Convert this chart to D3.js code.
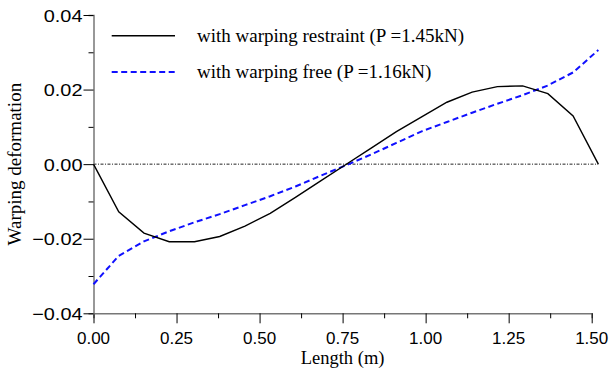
<!DOCTYPE html>
<html>
<head>
<meta charset="utf-8">
<script src="https://cdn.jsdelivr.net/npm/d3@7"></script>
<style>
  body { margin: 0; background: #fff; }
  svg { display: block; }
</style>
</head>
<body>
<svg id="chart" width="609" height="372"></svg>
<script>
// positions along the member (m), 20 equal steps
const lengths = [0, 0.076, 0.152, 0.228, 0.304, 0.38, 0.456, 0.532, 0.608, 0.684, 0.76,
                 0.836, 0.912, 0.988, 1.064, 1.14, 1.216, 1.292, 1.368, 1.444, 1.52];
const restrained = [0, -0.0128, -0.0185, -0.0208, -0.0208, -0.0194, -0.0166, -0.0132, -0.0089, -0.0045, -0.0001,
                    0.0043, 0.0087, 0.0127, 0.0166, 0.0193, 0.0208, 0.0210, 0.0189, 0.0129, 0];
const free = [-0.0322, -0.0246, -0.0207, -0.0180, -0.0156, -0.0134, -0.0110, -0.0086, -0.0060, -0.0031, -0.0003,
              0.0026, 0.0057, 0.0088, 0.0113, 0.0138, 0.0162, 0.0185, 0.0211, 0.0246, 0.0306];
const xTicks = [0, 0.25, 0.5, 0.75, 1.0, 1.25, 1.5];
const yTicks = [-0.04, -0.02, 0, 0.02, 0.04];
const legendLabels = ['with warping restraint (P =1.45kN)', 'with warping free (P =1.16kN)'];

const svg = d3.select('#chart');

const x = d3.scaleLinear().domain([0, 1.5]).range([93.5, 591.7]);
const y = d3.scaleLinear().domain([-0.04, 0.04]).range([313.3, 15]);

/// zero reference line, runs to the end of the data
svg.append('line')
  .attr('x1', x(0)).attr('x2', x(1.52))
  .attr('y1', y(0)).attr('y2', y(0))
  .attr('stroke', '#222').attr('stroke-width', 1)
  .attr('stroke-dasharray', '3,1.5,1,1.5');

/// axes
const xAxis = svg.append('g').attr('transform', `translate(0,${y(-0.04)})`);
xAxis.call(d3.axisBottom(x).tickValues(d3.range(0, 1.5001, 0.125)).tickSize(5).tickFormat(''));
xAxis.selectAll('.tick').filter(d => xTicks.some(t => Math.abs(t - d) < 1e-6))
  .select('line').attr('y2', 10);

const yAxis = svg.append('g').attr('transform', `translate(${x(0)},0)`);
yAxis.call(d3.axisLeft(y).tickValues(d3.range(-0.04, 0.04001, 0.01)).tickSize(5).tickFormat(''));
yAxis.selectAll('.tick').filter(d => yTicks.some(t => Math.abs(t - d) < 1e-6))
  .select('line').attr('x2', -10);

svg.selectAll('.domain').attr('stroke', '#777').attr('stroke-width', 1.5);
svg.selectAll('.tick line').attr('stroke', '#000').attr('stroke-width', 1);

/// tick labels
svg.append('g').selectAll('text')
  .data(xTicks).enter().append('text')
  .attr('x', d => x(d)).attr('y', 344)
  .attr('text-anchor', 'middle')
  .attr('font-family', 'Liberation Sans, Arial, sans-serif')
  .attr('font-size', 17)
  .text(d => d3.format('.2f')(d));

svg.append('g').selectAll('text')
  .data(yTicks).enter().append('text')
  .attr('transform', d => `translate(82.5,${y(d) + 6.5}) scale(1.17,1)`)
  .attr('text-anchor', 'end')
  .attr('font-family', 'Liberation Sans, Arial, sans-serif')
  .attr('font-size', 17)
  .text(d => d3.format('.2f')(d));

/// axis titles
svg.append('text')
  .attr('x', (x(0) + x(1.5)) / 2).attr('y', 364)
  .attr('text-anchor', 'middle')
  .attr('font-family', 'Liberation Serif, Times New Roman, serif')
  .attr('font-size', 18.5)
  .text('Length (m)');

svg.append('text')
  .attr('transform', `translate(21,${(y(0.04) + y(-0.04)) / 2}) rotate(-90)`)
  .attr('text-anchor', 'middle')
  .attr('font-family', 'Liberation Serif, Times New Roman, serif')
  .attr('font-size', 19)
  .text('Warping deformation');

/// curves
const line = d3.line().x(d => x(d[0])).y(d => y(d[1]));

svg.append('path')
  .datum(d3.zip(lengths, free))
  .attr('d', line)
  .attr('fill', 'none').attr('stroke', '#1010ff').attr('stroke-width', 2)
  .attr('stroke-dasharray', '6,3.5');

svg.append('path')
  .datum(d3.zip(lengths, restrained))
  .attr('d', line)
  .attr('fill', 'none').attr('stroke', '#000').attr('stroke-width', 1.4);

/// legend
const legendStyles = [
  {stroke: '#000', width: 1.4, dash: null, y: 35.7},
  {stroke: '#1010ff', width: 2, dash: '6,3.5', y: 72}
];
legendLabels.forEach(function(label, i) {
  const s = legendStyles[i];
  svg.append('line')
    .attr('x1', 111.7).attr('x2', 175)
    .attr('y1', s.y).attr('y2', s.y)
    .attr('stroke', s.stroke).attr('stroke-width', s.width)
    .attr('stroke-dasharray', s.dash);
  svg.append('text')
    .attr('x', 197).attr('y', s.y + 6)
    .attr('font-family', 'Liberation Serif, Times New Roman, serif')
    .attr('font-size', 19)
    .text(label);
});
</script>
</body>
</html>
